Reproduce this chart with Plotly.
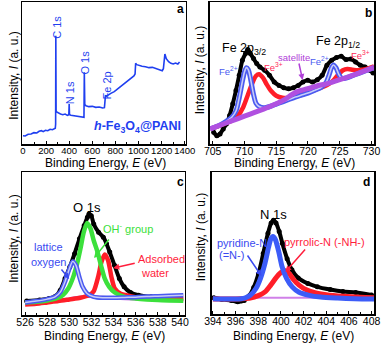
import plotly.graph_objects as go

W, H = 392, 343
FONT = "Liberation Sans, Arial, sans-serif"

# ---------------- Panel a: survey ----------------
a_E = [0, 20, 45, 70, 95, 120, 140, 160, 175, 195, 215, 235, 255, 270, 280, 283,
       284.5, 287, 292, 305, 325, 345, 365, 385, 397, 400, 403, 415, 440, 470, 500, 520, 528,
       531, 535, 545, 570, 600, 630, 660, 690, 705, 710, 714, 720, 740, 760, 790, 820,
       850, 880, 910, 940, 960, 970, 975, 985, 1000, 1030, 1060, 1090, 1120, 1150, 1180,
       1205, 1215, 1222, 1228, 1240, 1260, 1280, 1300, 1320, 1340, 1355]
a_I = [25, 24, 29, 30, 34, 33, 38, 40, 37, 41, 40, 44, 43, 46, 47, 60,
       325, 100, 96, 93, 90, 88, 90, 86, 88, 120, 88, 86, 85, 83, 82, 80, 80,
       215, 118, 115, 112, 113, 110, 111, 108, 109, 140, 146, 143, 148, 152, 157, 165,
       172, 180, 188, 196, 204, 210, 242, 238, 236, 233, 232, 229, 230, 226, 224,
       220, 226, 250, 270, 256, 247, 242, 240, 243, 240, 246]

# ---------------- Panel b: Fe 2p ----------------
b_E = [705.15, 705.65, 706.15, 706.66, 707.16, 707.66, 708.16, 708.66, 709.17, 709.67,
       710.17, 710.52, 710.92, 711.43, 711.93, 712.43, 713.18, 713.94, 714.69, 715.44,
       716.19, 716.95, 717.70, 718.45, 719.21, 719.96, 720.71, 721.47, 722.22, 722.97,
       723.72, 724.48, 725.23, 725.98, 726.74, 727.49, 728.24, 729.0, 729.75, 730.25]
b_I = [35, 25, 30, 45, 60, 85, 120, 160, 205, 250,
       270, 282, 270, 255, 240, 230, 220, 205, 185, 175,
       168, 165, 168, 175, 185, 190, 185, 192, 205, 235,
       250, 258, 262, 252, 254, 245, 235, 230, 220, 212]

b_fe2_E = [704.6, 706, 707, 708, 708.7, 709.2, 709.6, 710.0, 710.3, 710.6, 711.0, 711.4,
           711.8, 712.3, 713, 714, 715, 716, 717, 718, 719, 720, 721, 722, 722.8, 723.3,
           723.7, 724.0, 724.4, 724.8, 725.3, 726, 727, 728, 729, 730.4]
b_fe2_I = [45, 55, 66, 80, 100, 140, 180, 215, 228, 222, 190, 150,
           122, 112, 108, 112, 119, 126, 133, 140, 146, 152, 160, 168, 182, 205,
           228, 236, 228, 210, 196, 197, 204, 211, 218, 228]

b_fe3_E = [704.6, 706, 707, 708, 709, 709.8, 710.5, 711.2, 711.8, 712.3, 712.9, 713.5,
           714.2, 715, 716, 717, 718, 719, 720, 721, 722, 723, 724, 724.8, 725.5, 726.2,
           727, 727.8, 728.6, 729.5, 730.4]
b_fe3_I = [45, 54, 62, 70, 85, 110, 145, 180, 203, 208, 198, 178,
           158, 144, 138, 138, 142, 148, 154, 161, 168, 176, 190, 208, 220, 224,
           222, 220, 222, 226, 232]

b_sat_E = [704.6, 707, 709, 711, 713, 715, 716.5, 717.5, 718.5, 719.5, 720.5, 721.5,
           723, 725, 727, 729, 730.4]
b_sat_I = [45, 62, 76, 90, 104, 120, 135, 148, 158, 163, 168, 174,
           180, 192, 205, 219, 229]

# ---------------- Panel c: O 1s ----------------
c_E = [526.14, 527.3, 528.17, 528.74, 529.18, 529.61, 530.04, 530.47, 530.91, 531.34,
       531.63, 531.77, 531.98, 532.2, 532.64, 533.07, 533.36, 533.65, 534.08, 534.52,
       534.95, 535.53, 536.25, 537.4, 538.85, 540.0]
c_I = [42, 45, 50, 57, 75, 110, 145, 185, 230, 270,
       295, 305, 300, 275, 250, 235, 215, 190, 150, 110,
       85, 68, 60, 55, 52, 50]

c_oh_E = [526.0, 527, 528, 528.8, 529.4, 529.9, 530.3, 530.7, 531.0, 531.3, 531.6, 531.9,
          532.2, 532.5, 532.9, 533.2, 533.6, 534.1, 535.0, 536, 537, 538, 539, 540.3]
c_oh_I = [38, 40, 44, 50, 60, 80, 110, 155, 200, 250, 278, 262,
          225, 195, 145, 110, 85, 68, 55, 50, 47, 45, 44, 43]

c_lat_E = [526.0, 527, 528, 528.7, 529.2, 529.6, 529.9, 530.3, 530.6, 530.9, 531.2,
           531.6, 532.2, 533, 534, 535, 536, 537, 538, 539, 540.3]
c_lat_I = [38, 42, 48, 55, 70, 100, 130, 162, 150, 115, 85,
           65, 55, 52, 52, 53, 54, 56, 57, 58, 60]

c_h2o_E = [526.0, 527, 528, 529, 530, 531, 531.8, 532.2, 532.6, 532.9, 533.2, 533.5,
           533.8, 534.1, 534.6, 535.5, 536.5, 537.5, 538.5, 540.3]
c_h2o_I = [32, 34, 38, 42, 47, 52, 60, 72, 115, 160, 183, 165,
           115, 80, 65, 57, 52, 50, 49, 48]

c_bg_E = [526.0, 528, 529.5, 530.5, 531.5, 532.5, 533.5, 535, 537, 540.3]
c_bg_I = [40, 42, 46, 52, 56, 55, 52, 49, 47, 46]

# ---------------- Panel d: N 1s ----------------
d_E = [394.08, 394.79, 395.63, 396.19, 396.76, 397.18, 397.6, 398.02, 398.44, 398.86,
       399.14, 399.34, 399.57, 399.85, 400.13, 400.55, 400.97, 401.53, 402.38, 403.22,
       404.35, 405.47, 406.6, 408.0]
d_I = [48, 43, 40, 36, 40, 53, 78, 118, 178, 238,
       268, 276, 268, 243, 208, 163, 130, 106, 90, 80,
       72, 66, 63, 56]

d_pyd_E = [394.0, 395, 396, 396.8, 397.3, 397.8, 398.2, 398.6, 398.9, 399.1, 399.3,
           399.5, 399.8, 400.1, 400.5, 401, 401.6, 402.5, 403.5, 405, 406.5, 408.3]
d_pyd_I = [45, 44, 44, 47, 55, 75, 105, 150, 195, 220, 228,
           220, 185, 140, 105, 80, 64, 55, 50, 47, 45, 44]

d_pyr_E = [394.0, 395.5, 396.5, 397.3, 398, 398.6, 399.1, 399.6, 400.0, 400.3, 400.7,
           401.1, 401.6, 402.2, 403, 404, 405.5, 407, 408.3]
d_pyr_I = [44, 44, 45, 47, 54, 65, 85, 108, 122, 128, 120,
           102, 85, 72, 63, 57, 52, 49, 48]

d_bg_E = [394.0, 408.3]
d_bg_I = [48, 48]

# ---------------- layout helpers ----------------
def px(x, y):
    return x / W, 1 - y / H

dom = {
    "a": ((15, 186), (2, 144)),
    "b": ((211, 383), (2, 144)),
    "c": ((15, 185), (172, 315)),
    "d": ((213, 383), (172, 314)),
}

fig = go.Figure()

BLACK = "#000000"
BLUE = "#4A5AF0"
LBLUE = "#C8CCF8"
RED = "#FF1E28"
GREEN = "#3CE03C"
PURPLE = "#B050E0"


def add_line(E, I, xa, ya, color, width, shape="spline", markers=False, msize=5):
    fig.add_trace(go.Scatter(
        x=E, y=I, xaxis=xa, yaxis=ya,
        mode="lines+markers" if markers else "lines",
        line=dict(color=color, width=width, shape=shape, smoothing=0.7 if shape == "spline" else None),
        marker=dict(color=color, size=msize) if markers else None,
        showlegend=False, hoverinfo="skip"))

# panel a
add_line(a_E, a_I, "x", "y", "#1F3FF0", 1.6, shape="linear")
# panel b
add_line(b_E, b_I, "x2", "y2", BLACK, 4, markers=True, msize=5)
add_line(b_fe3_E, b_fe3_I, "x2", "y2", RED, 4.5)
add_line(b_fe2_E, b_fe2_I, "x2", "y2", BLUE, 5)
add_line(b_fe2_E, b_fe2_I, "x2", "y2", LBLUE, 1.6)
add_line(b_sat_E, b_sat_I, "x2", "y2", PURPLE, 5)
# panel c
add_line(c_E, c_I, "x3", "y3", BLACK, 4, markers=True, msize=5)
add_line(c_bg_E, c_bg_I, "x3", "y3", "#C878E8", 3)
add_line(c_h2o_E, c_h2o_I, "x3", "y3", RED, 4.5)
add_line(c_oh_E, c_oh_I, "x3", "y3", GREEN, 4.5)
add_line(c_lat_E, c_lat_I, "x3", "y3", BLUE, 4.5)
add_line(c_lat_E, c_lat_I, "x3", "y3", LBLUE, 1.5)
# panel d
add_line(d_E, d_I, "x4", "y4", BLACK, 4, markers=True, msize=5)
add_line(d_bg_E, d_bg_I, "x4", "y4", "#D080E8", 2, shape="linear")
add_line(d_pyr_E, d_pyr_I, "x4", "y4", RED, 5)
add_line(d_pyd_E, d_pyd_I, "x4", "y4", "#3C5CF8", 5)

axis_common = dict(showline=True, linecolor="black", linewidth=1.5, mirror=True,
                   showgrid=False, zeroline=False, ticks="inside", ticklen=3,
                   tickcolor="black", tickangle=0,
                   tickfont=dict(family=FONT, size=10.5, color="black"))

xranges = {"a": [-5, 1410], "b": [704.55, 730.45], "c": [525.75, 540.45], "d": [393.9, 408.25]}
yranges = {"a": [0, 426], "b": [0, 424], "c": [0, 432], "d": [0, 418]}
xticks = {"a": (0, 200, 100), "b": (705, 5, 2.5), "c": (526, 2, 1), "d": (394, 2, 1)}
names = ["a", "b", "c", "d"]
for i, k in enumerate(names):
    (x0, x1), (y0, y1) = dom[k]
    sfx = "" if i == 0 else str(i + 1)
    t0, dt, mdt = xticks[k]
    fig.layout["xaxis" + sfx] = dict(axis_common, domain=[x0 / W, x1 / W], range=xranges[k],
                                     anchor="y" + sfx, tickmode="linear", tick0=t0, dtick=dt,
                                     ticklabelstandoff=-3,
                                     minor=dict(ticks="inside", ticklen=2, dtick=mdt, tick0=t0, tickcolor="black"),
                                     tickfont=dict(family=FONT, size=9.5 if k == "a" else 10.5, color="black"))
    fig.layout["yaxis" + sfx] = dict(axis_common, domain=[1 - y1 / H, 1 - y0 / H], range=yranges[k],
                                     anchor="x" + sfx, showticklabels=False, ticks="")

ann = []


def text(x, y, s, size=11, color="black", angle=0, bold=False):
    xx, yy = px(x, y)
    if bold:
        s = "<b>" + s + "</b>"
    ann.append(dict(x=xx, y=yy, xref="paper", yref="paper", text=s, showarrow=False,
                    font=dict(family=FONT, size=size, color=color), textangle=angle,
                    xanchor="center", yanchor="middle"))


def arrow(xs, ys, xe, ye, color):
    xx, yy = px(xe, ye)
    ann.append(dict(x=xx, y=yy, xref="paper", yref="paper", text="", showarrow=True,
                    ax=xs - xe, ay=ys - ye, arrowcolor=color, arrowwidth=1.5,
                    arrowhead=2, arrowsize=0.8, font=dict(family=FONT, size=10)))

# axis titles
xt = "Binding Energy, <i>E</i> (eV)"
yt = "Intensity, <i>I</i> (a. u.)"
text(102, 162.5, xt, 12)
text(300, 162.5, xt, 12)
text(101, 336, xt, 12)
text(298, 336, xt, 12)
text(6, 75, yt, 12, angle=-90)
text(201, 70, yt, 12, angle=-90)
text(6, 238, yt, 12, angle=-90)
text(202, 237, yt, 12, angle=-90)

# panel letters
text(180, 9, "a", 12, bold=True)
text(377, 13, "b", 12, bold=True)
text(180, 182, "c", 12, bold=True)
text(375, 182, "d", 12, bold=True)

# panel a labels
BL = "#1F3FF0"
text(51, 27, "C 1s", 11, BL, angle=-90)
text(65, 93, "N 1s", 11, BL, angle=-90)
text(80, 63, "O 1s", 11, BL, angle=-90)
text(104, 85, "Fe 2p", 11, BL, angle=-90)
text(135, 127, "<i>h</i>-Fe<sub>3</sub>O<sub>4</sub>@PANI", 12.5, BL, bold=True)

# panel b labels
text(247, 49, "Fe 2p<sub>3/2</sub>", 12.5)
text(345, 42, "Fe 2p<sub>1/2</sub>", 12.5)
text(231, 71, "Fe<sup>2+</sup>", 9.5, "#4A5AF0")
text(278, 67, "Fe<sup>3+</sup>", 9.5, "#FF2A5A")
text(299, 57, "satellite", 9.5, "#B040D8")
text(326, 61, "Fe<sup>2+</sup>", 9.5, "#4A5AF0")
text(369, 55, "Fe<sup>3+</sup>", 9.5, "#FF2A5A")
arrow(304, 62, 308, 80, "#B040D8")

# panel c labels
text(83, 207, "O 1s", 13)
text(125, 228, "OH<sup>-</sup> group", 11, "#3CE03C")
text(42, 247, "lattice", 11, "#3A4AF0")
text(42, 262, "oxygen", 11, "#3A4AF0")
text(160, 259, "Adsorbed", 11, "#FF1E3C")
text(154, 273, "water", 11, "#FF1E3C")
arrow(106, 238, 90, 258, "#3CE03C")
arrow(55, 268, 64, 279, "#3A4AF0")
arrow(133, 263, 110, 268, "#FF1E3C")

# panel d labels
text(278, 215, "N 1s", 13)
text(245, 243, "pyridine-N", 11, "#3A4AF0")
text(234, 255, "(=N-)", 11, "#3A4AF0")
text(331, 242, "pyrrolic-N (-NH-)", 11, "#FF1E3C")
arrow(250, 254, 265, 276, "#3A4AF0")
arrow(311, 248, 290, 272, "#FF1E3C")

fig.update_layout(width=W, height=H, margin=dict(l=0, r=0, t=0, b=0),
                  paper_bgcolor="white", plot_bgcolor="white", annotations=ann,
                  font=dict(family=FONT), hovermode=False)
fig.write_html("out.html", config={"displayModeBar": False, "staticPlot": True},
               post_script="document.body.style.margin='0';document.body.style.padding='0';document.body.style.overflow='hidden';")
